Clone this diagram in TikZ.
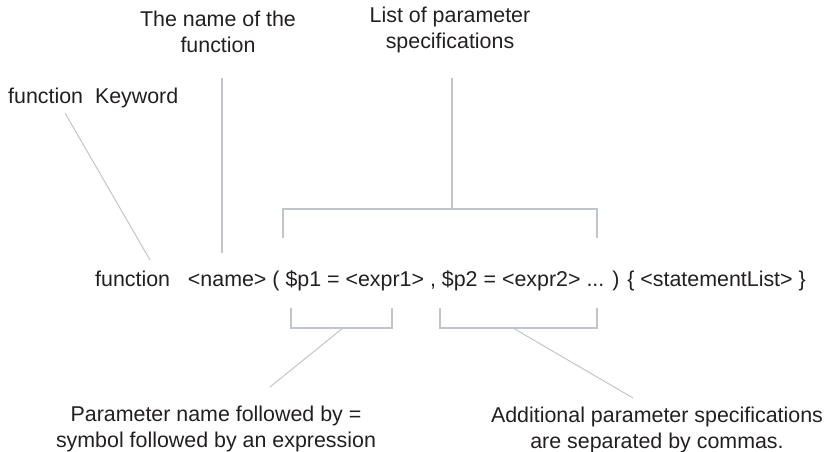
\documentclass[tikz,border=0pt]{standalone}
\usepackage{fontspec}
\setmainfont{Liberation Sans}
\usetikzlibrary{positioning, calc}
\definecolor{leadgray}{RGB}{192,196,204}
\definecolor{inkgray}{RGB}{35,31,32}

\begin{document}
\begin{tikzpicture}[x=1pt,y=-1pt,
lbl/.style={font=\fontsize{21.4}{26.5}\selectfont, text=inkgray, align=center, inner sep=0pt},
lead/.style={draw=leadgray, line width=1.4pt},
slant/.style={draw=leadgray, line width=1pt}]
\useasboundingbox (0,0) rectangle (827,452);
% labels
\node[lbl] (namelbl) at(218,32){The name of the\\function};
\node[lbl] (listlbl) at(450,30){List of parameter\\specifications};
\node[lbl, anchor=west] (kwlbl) at(8,98){function~~Keyword};
\node[lbl, anchor=west] (sig) at(95,281){function~~~<name> ( \$p1 = <expr1> , \$p2 = <expr2> ... ) \{ <statementList> \}};
\node[lbl] (firstlbl) at(216,429){Parameter name followed by =\\symbol followed by an expression};
\node[lbl] (morelbl) at(657,430){Additional parameter specifications\\are separated by commas.};
% bracket corners
\coordinate (kwtop) at(65,113);
\coordinate (kwend) at(150,260);
\coordinate (nametop) at(222,78);
\coordinate (nameend) at(222,253);
\coordinate (listtop) at(452,78);
\coordinate (listmid) at(452,209);
\coordinate (tl) at(283,238);
\coordinate (tr) at(597,238);
\coordinate (b1l) at(291,308);
\coordinate (b1r) at(392,308);
\coordinate (b1mid) at(343,328);
\coordinate (b2l) at(440,308);
\coordinate (b2r) at(597,308);
\coordinate (b2mid) at(513,328);
\coordinate (firstend) at(270,387);
\coordinate (moreend) at(633,398);
% leader lines
\draw[slant] (kwtop) --(kwend);
\draw[lead] (nametop) --(nameend);
\draw[lead] (listtop) --(listmid);
\draw[lead] (tl) |- (listmid) -| (tr);
\draw[lead] (b1l) |- (b1mid) -| (b1r);
\draw[lead] (b2l) |- (b2mid) -| (b2r);
\draw[slant] (b1mid) --(firstend);
\draw[slant] (b2mid) --(moreend);
\end{tikzpicture}
\end{document}
